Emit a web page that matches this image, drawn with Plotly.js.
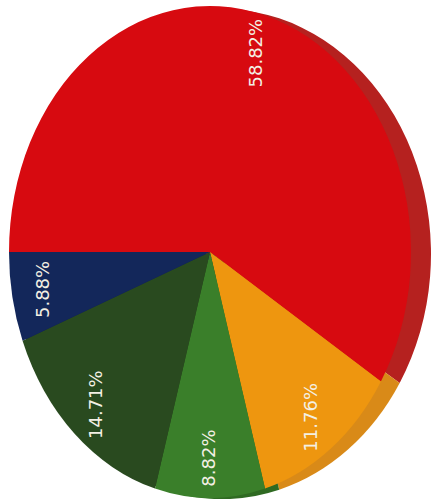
<!DOCTYPE html>
<html>
<head>
<meta charset="utf-8">
<script src="https://cdn.plot.ly/plotly-3.0.1.min.js"></script>
<style>html,body{margin:0;padding:0;background:#fff;overflow:hidden}#chart{width:431px;height:499px}</style>
</head>
<body>
<div id="chart"></div>
<script>
const categories = ["Red", "Orange", "Light green", "Dark green", "Navy"];
const counts = [20, 4, 3, 5, 2];
const percentLabels = ["58.82%", "11.76%", "8.82%", "14.71%", "5.88%"];
const frontColors = ["#d70a10", "#ee960f", "#3a7f2a", "#294a1f", "#13275a"];
const backColors = ["#b5211f", "#d98a18", "#2f6a22", "#24431b", "#102250"];

const W = 431, H = 499;
const front = {cx: 210, cy: 252, rx: 201, ry: 246};
const back = {cx: 222, cy: 254, rx: 209, ry: 245};
const LABEL_R = 0.84;

function domainOf(e) {
  return {
    x: [(e.cx - e.rx) / W, (e.cx + e.rx) / W],
    y: [(H - e.cy - e.rx) / H, (H - e.cy + e.rx) / H]
  };
}
function pieTrace(e, colors) {
  return {
    type: "pie", labels: categories, values: counts, sort: false,
    direction: "clockwise", rotation: 270, domain: domainOf(e),
    marker: {colors: colors, line: {width: 0}},
    textinfo: "none", hoverinfo: "skip", showlegend: false
  };
}

const total = counts.reduce((a, b) => a + b, 0);
let running = 0;
const annotations = counts.map((v, i) => {
  const mid = (270 + (running + v / 2) / total * 360) * Math.PI / 180;
  running += v;
  return {
    xref: "paper", yref: "paper", showarrow: false, textangle: -90,
    x: (front.cx + LABEL_R * front.rx * Math.sin(mid) - 1) / W,
    y: 1 - (front.cy - LABEL_R * front.ry * Math.cos(mid)) / H,
    xanchor: "center", yanchor: "middle",
    text: percentLabels[i],
    font: {family: "DejaVu Sans", size: 18, color: "#f3f0e4"}
  };
});

Plotly.newPlot("chart", [pieTrace(back, backColors), pieTrace(front, frontColors)], {
  width: W, height: H, margin: {l: 0, r: 0, t: 0, b: 0},
  paper_bgcolor: "#fff", annotations: annotations
}, {displayModeBar: false, staticPlot: true}).then(() => {
  // The reference pie is an ellipse: stretch each pie vertically about its centre.
  document.querySelectorAll("#chart .pielayer .trace").forEach((g, i) => {
    const e = i === 0 ? back : front;
    const s = e.ry / e.rx;
    g.setAttribute("transform", `matrix(1,0,0,${s},0,${e.cy * (1 - s)})`);
  });
});
</script>
</body>
</html>
